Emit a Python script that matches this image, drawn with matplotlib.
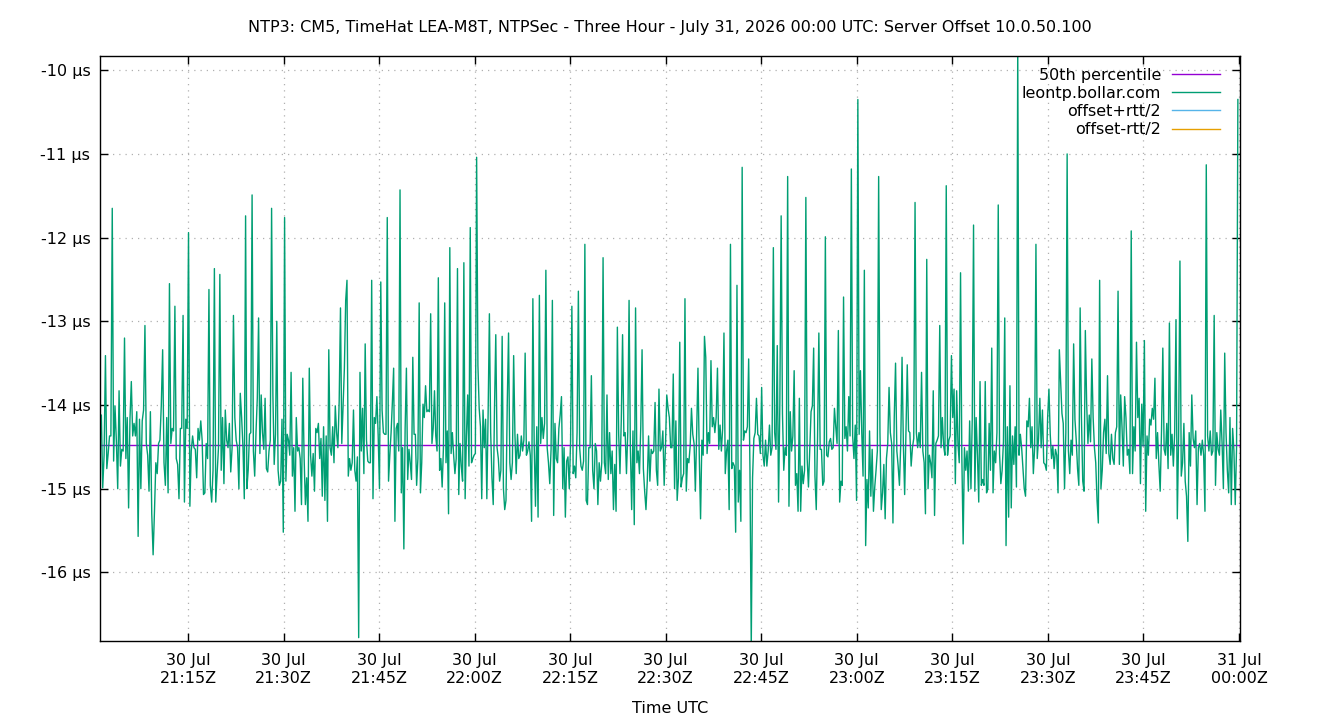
import matplotlib
matplotlib.use('Agg')
import matplotlib.pyplot as plt
import matplotlib.dates as mdates
import pandas as pd

# Segment boundaries (sample times are spread evenly inside each segment)
seg_bounds = ['2026-07-30 21:01:11', '2026-07-30 21:23:38', '2026-07-30 21:46:05',
              '2026-07-30 22:08:32', '2026-07-30 22:30:59', '2026-07-30 22:53:26',
              '2026-07-30 23:15:53', '2026-07-30 23:38:20', '2026-07-30 23:59:50']

# leontp.bollar.com offsets in microseconds
seg1 = [-14.12, -14.12, -14.99, -14.60, -13.41, -14.76, -14.58, -14.37, -14.37, -11.65,
        -14.67, -14.01, -14.42, -15.00, -13.83, -14.73, -14.53, -14.55, -13.20, -14.64,
        -14.15, -15.23, -14.17, -13.72, -14.37, -14.22, -14.37, -14.08, -15.57, -14.17,
        -15.00, -14.19, -14.06, -13.05, -14.46, -14.60, -15.03, -14.08, -15.30, -15.79,
        -15.27, -14.69, -14.82, -14.46, -14.42, -14.01, -13.34, -14.69, -14.96, -14.15,
        -15.05, -12.55, -14.46, -14.28, -14.31, -12.82, -14.64, -14.71, -15.12, -14.28,
        -14.28, -12.93, -15.16, -14.17, -14.28, -11.94, -15.21, -14.55, -14.37, -14.51,
        -14.53, -14.87, -14.28, -14.42, -14.19, -14.42, -15.07, -15.05, -14.46, -14.64,
        -12.62, -14.96, -15.16, -14.78, -12.37, -15.16, -14.82, -14.51, -12.44, -14.78,
        -14.15, -14.94, -14.06, -14.42, -14.51, -14.22, -14.80, -14.51, -12.93, -14.15,
        -14.42, -14.51, -15.00, -13.86, -14.15]
seg2 = [-14.51, -15.12, -11.74, -15.00, -14.78, -14.35, -14.33, -11.49, -14.55, -14.85,
        -14.33, -13.92, -12.96, -14.58, -13.88, -14.33, -14.53, -13.92, -14.76, -14.80,
        -14.55, -14.42, -11.65, -13.88, -14.71, -14.35, -13.00, -14.78, -14.96, -14.91,
        -14.17, -15.52, -11.76, -14.91, -14.35, -14.42, -14.60, -13.61, -14.85, -14.51,
        -15.27, -14.15, -14.55, -14.51, -14.64, -15.19, -13.68, -14.62, -15.19, -14.87,
        -15.39, -13.56, -14.60, -14.85, -14.58, -15.03, -14.28, -14.33, -14.22, -14.64,
        -14.40, -15.09, -14.26, -15.14, -14.37, -15.39, -13.34, -14.51, -14.60, -14.26,
        -14.69, -14.01, -14.33, -14.51, -13.95, -12.84, -14.46, -14.01, -13.56, -12.75,
        -12.51, -14.85, -14.64, -14.78, -14.69, -14.06, -14.78, -14.91, -14.62, -16.78,
        -13.61, -14.55, -14.04, -14.82, -13.27, -14.42, -14.67, -14.69, -14.69, -12.51,
        -15.12, -14.15, -14.22, -13.90, -14.37, -15.00, -12.53, -14.06, -14.33, -14.35]
seg3 = [-14.35, -11.76, -14.91, -14.60, -14.33, -13.97, -13.56, -15.39, -14.28, -14.22,
        -14.55, -11.43, -15.05, -14.51, -15.72, -14.28, -13.56, -14.89, -14.53, -14.69,
        -14.89, -13.43, -14.35, -14.35, -14.96, -14.64, -12.78, -15.05, -14.69, -13.99,
        -14.15, -13.77, -14.08, -14.06, -14.08, -12.91, -14.46, -14.28, -13.83, -14.37,
        -14.55, -12.48, -14.78, -14.64, -14.98, -14.51, -12.78, -14.69, -14.31, -15.30,
        -12.12, -14.58, -14.33, -14.60, -14.82, -14.64, -12.37, -15.07, -14.46, -14.73,
        -14.91, -12.30, -15.12, -14.37, -13.88, -14.73, -11.88, -14.69, -14.64, -14.60,
        -14.58, -11.04, -13.52, -14.04, -14.26, -15.12, -14.06, -14.51, -14.17, -15.12,
        -14.10, -12.91, -14.33, -14.87, -15.19, -14.04, -13.16, -14.51, -14.64, -14.91,
        -14.78, -13.18, -15.00, -15.25, -15.14, -13.97, -13.14, -14.69, -14.89, -14.69,
        -13.41, -14.35, -14.82, -14.35, -14.64, -14.60, -14.37, -14.55, -14.42, -13.38,
        -14.60, -14.55]
seg4 = [-14.44, -14.60, -15.39, -12.73, -14.46, -15.21, -14.26, -15.34, -12.69, -14.46,
        -14.15, -14.40, -14.22, -12.39, -14.51, -14.69, -14.94, -14.53, -12.75, -15.32,
        -14.22, -14.64, -14.69, -14.28, -14.12, -13.90, -15.00, -14.51, -15.34, -14.67,
        -14.62, -15.00, -14.44, -12.82, -14.82, -14.73, -14.87, -14.33, -12.64, -14.51,
        -14.73, -14.78, -14.67, -12.08, -15.14, -15.19, -14.51, -14.51, -13.65, -14.78,
        -15.00, -14.46, -14.55, -15.19, -14.69, -14.91, -14.69, -12.24, -14.69, -14.82,
        -13.88, -14.89, -14.33, -14.82, -14.55, -15.25, -14.71, -15.27, -13.07, -14.35,
        -14.82, -14.19, -13.16, -14.37, -14.33, -14.82, -14.33, -12.75, -14.51, -15.25,
        -14.31, -15.43, -12.84, -14.69, -14.55, -14.82, -14.26, -13.34, -14.76, -15.03,
        -15.25, -14.91, -14.37, -14.91, -14.53, -14.58, -14.55, -13.97, -14.78, -14.96,
        -13.81, -14.55, -14.51, -14.31, -14.96, -14.49, -13.88, -14.04, -14.15, -14.51]
seg5 = [-14.51, -13.63, -15.00, -14.19, -15.14, -14.87, -13.25, -14.98, -14.87, -14.82,
        -12.73, -15.03, -14.64, -14.69, -14.49, -14.04, -14.35, -14.46, -15.03, -14.33,
        -13.56, -14.60, -15.36, -14.42, -14.60, -13.18, -13.43, -14.58, -14.33, -14.46,
        -13.47, -14.26, -14.15, -14.33, -14.15, -13.56, -14.53, -14.24, -14.55, -14.28,
        -13.14, -14.82, -14.55, -14.42, -15.25, -12.08, -14.76, -14.69, -14.73, -15.52,
        -12.57, -15.16, -14.78, -15.39, -11.16, -14.42, -14.31, -14.33, -14.26, -13.45,
        -14.78, -16.90, -14.87, -14.40, -14.33, -13.92, -14.35, -14.37, -14.58, -13.79,
        -14.60, -14.73, -14.42, -14.73, -14.55, -14.24, -14.60, -14.51, -12.12, -14.33,
        -14.53, -13.29, -15.16, -13.97, -11.74, -14.10, -14.78, -14.51, -14.60, -11.27,
        -15.21, -14.08, -14.55, -14.37, -13.59, -14.96, -14.82, -15.27, -13.92, -15.27,
        -14.73, -14.94, -14.78, -11.52, -14.64, -14.98, -14.51, -14.08, -14.01, -13.32]
seg6 = [-14.85, -15.25, -14.37, -13.14, -14.53, -14.53, -14.96, -14.91, -11.99, -14.60,
        -14.62, -14.44, -14.40, -14.53, -14.51, -14.04, -14.26, -14.46, -13.11, -15.16,
        -14.91, -14.96, -12.71, -14.40, -14.26, -14.55, -13.90, -14.37, -11.18, -14.37,
        -14.64, -14.24, -15.14, -10.35, -14.35, -13.59, -14.33, -14.85, -12.39, -15.68,
        -14.89, -15.23, -14.31, -15.09, -14.53, -15.27, -14.98, -14.78, -14.55, -11.27,
        -14.33, -15.25, -15.05, -14.71, -15.36, -14.64, -14.46, -13.79, -14.33, -14.46,
        -15.41, -14.15, -13.50, -14.55, -14.73, -14.96, -14.46, -13.43, -14.46, -15.07,
        -14.33, -13.52, -14.31, -14.33, -14.73, -14.51, -14.40, -11.58, -14.33, -14.51,
        -14.33, -14.51, -13.61, -14.55, -14.69, -15.30, -12.26, -15.00, -14.60, -14.69,
        -14.87, -13.83, -15.32, -14.46, -14.42, -14.37, -13.05, -14.51, -14.15, -14.49,
        -14.60, -11.38, -14.60, -14.42, -14.37, -13.41, -14.15, -13.81, -14.94, -13.83]
seg7 = [-14.46, -14.69, -12.42, -14.62, -15.66, -14.51, -14.78, -14.55, -15.03, -14.19,
        -15.00, -14.17, -11.85, -15.03, -14.15, -14.60, -15.16, -13.72, -14.96, -14.89,
        -14.96, -13.72, -15.05, -15.00, -14.22, -14.78, -13.32, -15.05, -14.55, -14.69,
        -14.33, -11.61, -14.58, -14.94, -14.78, -14.44, -12.96, -15.68, -14.26, -15.34,
        -13.77, -15.23, -14.37, -14.71, -14.26, -14.98, -9.70, -14.60, -14.35, -14.51,
        -14.76, -15.00, -15.09, -14.19, -14.26, -13.92, -14.51, -14.26, -14.82, -14.51,
        -12.08, -14.64, -14.40, -13.92, -14.51, -14.06, -14.69, -14.71, -14.78, -14.15,
        -13.81, -14.35, -14.64, -14.49, -14.76, -14.53, -14.60, -15.05, -13.34, -13.72,
        -14.10, -14.22, -15.00, -14.33, -11.00, -14.55, -14.82, -14.42, -14.60, -13.27,
        -14.17, -14.42, -14.76, -14.96, -12.84, -14.15, -14.91, -15.03, -13.11, -13.97,
        -14.46, -14.12, -14.44, -13.45, -14.15, -14.51, -14.69, -15.14, -15.41, -12.51]
seg8 = [-15.00, -14.78, -14.33, -14.17, -14.58, -13.65, -14.58, -14.71, -14.35, -14.64,
        -14.71, -14.33, -14.26, -12.64, -14.71, -13.88, -14.26, -14.73, -13.90, -14.15,
        -14.60, -14.53, -14.82, -11.92, -14.82, -14.26, -14.55, -13.25, -14.15, -13.92,
        -14.94, -13.99, -14.49, -13.23, -15.27, -14.37, -14.60, -14.17, -14.24, -14.04,
        -14.17, -13.68, -14.64, -14.33, -14.71, -15.03, -14.31, -13.32, -14.53, -14.60,
        -14.22, -14.76, -13.02, -14.60, -14.35, -14.73, -14.33, -12.98, -15.36, -14.37,
        -12.28, -14.85, -14.69, -14.22, -14.91, -15.09, -15.63, -14.33, -14.73, -13.88,
        -14.40, -14.51, -14.31, -15.19, -14.51, -14.46, -14.60, -14.42, -14.60, -15.27,
        -11.13, -14.37, -14.55, -14.31, -14.60, -14.55, -12.93, -14.96, -14.33, -14.53,
        -14.60, -14.06, -14.46, -15.00, -13.38, -14.33, -14.78, -15.05, -14.15, -15.19,
        -14.28, -14.55, -15.19, -14.51, -10.35]
segments = [seg1, seg2, seg3, seg4, seg5, seg6, seg7, seg8]

median_50 = -14.48

title = ('NTP3: CM5, TimeHat LEA-M8T, NTPSec - Three Hour - July 31, 2026 00:00 UTC: '
         'Server Offset 10.0.50.100')
y_ticks = [-10, -11, -12, -13, -14, -15, -16]

# build the time series
times = []
values = []
for i, seg in enumerate(segments):
    last = i == len(segments) - 1
    n = len(seg) if last else len(seg) + 1
    rng = pd.date_range(seg_bounds[i], seg_bounds[i + 1], periods=n)
    if not last:
        rng = rng[:-1]
    times.extend(rng)
    values.extend(seg)

plt.rcParams['font.family'] = ['DejaVu Sans']

fig = plt.figure(figsize=(13.4, 7.2), dpi=100)
ax = fig.add_axes([100 / 1340, 1 - 641 / 720, 1140 / 1340, 585 / 720])

x_start = pd.Timestamp('2026-07-30 21:01:11')
x_end = pd.Timestamp('2026-07-31 00:00:10')

ax.plot([x_start, x_end], [median_50, median_50], color='#9400d3', lw=1,
        label='50th percentile')
ax.plot(times, values, color='#009e73', lw=1, label='leontp.bollar.com')
ax.plot([], [], color='#56b4e9', lw=1, label='offset+rtt/2')
ax.plot([], [], color='#e69f00', lw=1, label='offset-rtt/2')

ax.set_xlim(x_start, x_end)
ax.set_ylim(-16.82, -9.83)

ax.set_yticks(y_ticks)
ax.set_yticklabels([f'{t} µs' for t in y_ticks])
ax.xaxis.set_major_locator(mdates.MinuteLocator(byminute=[0, 15, 30, 45]))
ax.xaxis.set_major_formatter(mdates.DateFormatter('%d %b\n%H:%MZ'))

ax.grid(True, color='#b0b0b0', linestyle=(0, (1, 4)), lw=0.9)
ax.tick_params(direction='in', length=6, width=1, top=True, right=True,
               labelsize=11.5)
ax.tick_params(axis='x', pad=9)
ax.tick_params(axis='y', pad=7)
for s in ax.spines.values():
    s.set_linewidth(1)

ax.set_title(title, fontsize=11.5, pad=17)
ax.set_xlabel('Time UTC', fontsize=11.5, labelpad=11)

leg = ax.legend(loc='upper right', bbox_to_anchor=(0.9825, 0.98), frameon=False,
                markerfirst=False, fontsize=11.5, handlelength=3.0, labelspacing=0.2,
                borderaxespad=0, borderpad=0, handletextpad=0.7)
for col in leg._legend_box.get_children()[1].get_children():
    col.align = 'right'

fig.savefig('out.png', dpi=100)
